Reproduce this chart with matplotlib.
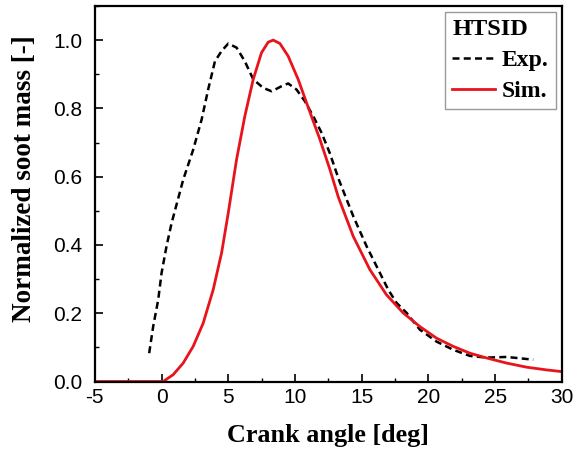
#!/usr/bin/env python3
"""
Normalized soot mass vs crank angle: experiment vs simulation (HTSID).
Saves out.png.
"""
import matplotlib
matplotlib.use("Agg")
import matplotlib.pyplot as plt
from matplotlib.ticker import MultipleLocator

plt.rcParams["axes.unicode_minus"] = False  # plain hyphen like the original

# ---------- data ----------

exp_ca = [-0.93, -0.63, -0.25, 0.0, 0.37, 0.75, 1.1, 1.62, 2.37, 3.0, 3.49,
          4.0, 4.5, 5.0, 5.62, 6.24, 6.87, 7.62, 8.25, 9.0, 9.49, 10.12,
          10.74, 11.37, 12.0, 12.62, 13.3, 14.37, 15.37, 16.24, 16.99, 17.62,
          18.37, 19.36, 20.61, 21.86, 23.11, 24.36, 25.86, 27.86]
exp_soot = [0.083, 0.161, 0.240, 0.318, 0.396, 0.464, 0.515, 0.591, 0.679,
            0.767, 0.855, 0.938, 0.968, 0.990, 0.978, 0.938, 0.885, 0.860,
            0.850, 0.865, 0.873, 0.855, 0.821, 0.777, 0.728, 0.668, 0.590,
            0.484, 0.396, 0.328, 0.269, 0.230, 0.201, 0.152, 0.117, 0.093,
            0.075, 0.070, 0.072, 0.064]

sim_ca = [-5.0, 0.12, 0.87, 1.62, 2.37, 3.12, 3.87, 4.5, 5.0, 5.62, 6.24,
          6.87, 7.49, 7.99, 8.37, 8.87, 9.49, 10.24, 11.0, 11.87, 12.62,
          13.25, 14.37, 15.61, 16.86, 18.11, 19.36, 20.61, 21.86, 23.11,
          24.36, 25.86, 27.36, 28.86, 30.0]
sim_soot = [0.0, 0.0, 0.02, 0.054, 0.103, 0.171, 0.269, 0.377, 0.494, 0.650,
            0.777, 0.885, 0.963, 0.994, 1.0, 0.990, 0.953, 0.885, 0.802,
            0.709, 0.621, 0.540, 0.425, 0.328, 0.254, 0.201, 0.161, 0.127,
            0.103, 0.083, 0.069, 0.054, 0.042, 0.034, 0.029]

SERIF = ["Liberation Serif", "DejaVu Serif"]
SANS = ["Liberation Sans", "DejaVu Sans"]


def main():
    fig = plt.figure(figsize=(5.75, 4.58), dpi=100)
    ax = fig.add_axes([0.165, 0.167, 0.812, 0.820])

    ax.plot(exp_ca, exp_soot, "--", color="black", linewidth=1.8,
            dashes=(2.8, 1.7), label="Exp.")
    ax.plot(sim_ca, sim_soot, "-", color="#e8141c", linewidth=2.0,
            label="Sim.")

    ax.set_xlim(-5, 30)
    ax.set_ylim(0, 1.1)
    ax.xaxis.set_major_locator(MultipleLocator(5))
    ax.xaxis.set_minor_locator(MultipleLocator(2.5))
    ax.yaxis.set_major_locator(MultipleLocator(0.2))
    ax.yaxis.set_minor_locator(MultipleLocator(0.1))
    ax.yaxis.set_major_formatter(lambda v, p: f"{v:.1f}")

    ax.tick_params(which="both", direction="in", top=False, right=False)
    ax.tick_params(which="major", length=6, width=1.2, labelsize=15)
    ax.tick_params(axis="x", which="major", pad=5)
    ax.tick_params(axis="y", which="major", pad=9)
    ax.tick_params(which="minor", length=3, width=1.0)
    for lbl in ax.get_xticklabels() + ax.get_yticklabels():
        lbl.set_family(SANS)
    for sp in ax.spines.values():
        sp.set_linewidth(1.6)

    ax.set_xlabel("Crank angle [deg]", family=SERIF, fontweight="bold",
                  fontsize=18.8, labelpad=12)
    ax.set_ylabel("Normalized soot mass [-]", family=SERIF, fontweight="bold",
                  fontsize=19.5)
    ax.yaxis.set_label_coords(-0.124, 0.541)

    leg = ax.legend(title="HTSID", loc="upper right",
                    prop={"family": SERIF, "weight": "bold", "size": 17},
                    title_fontproperties={"family": SERIF, "weight": "bold",
                                          "size": 17.5},
                    alignment="left", fancybox=False, framealpha=1,
                    edgecolor="#999999", handlelength=1.8, handletextpad=0.3,
                    borderpad=0.3, labelspacing=0.4, borderaxespad=0.25)
    leg.get_frame().set_linewidth(1.0)

    fig.savefig("out.png", dpi=100)


if __name__ == "__main__":
    main()
